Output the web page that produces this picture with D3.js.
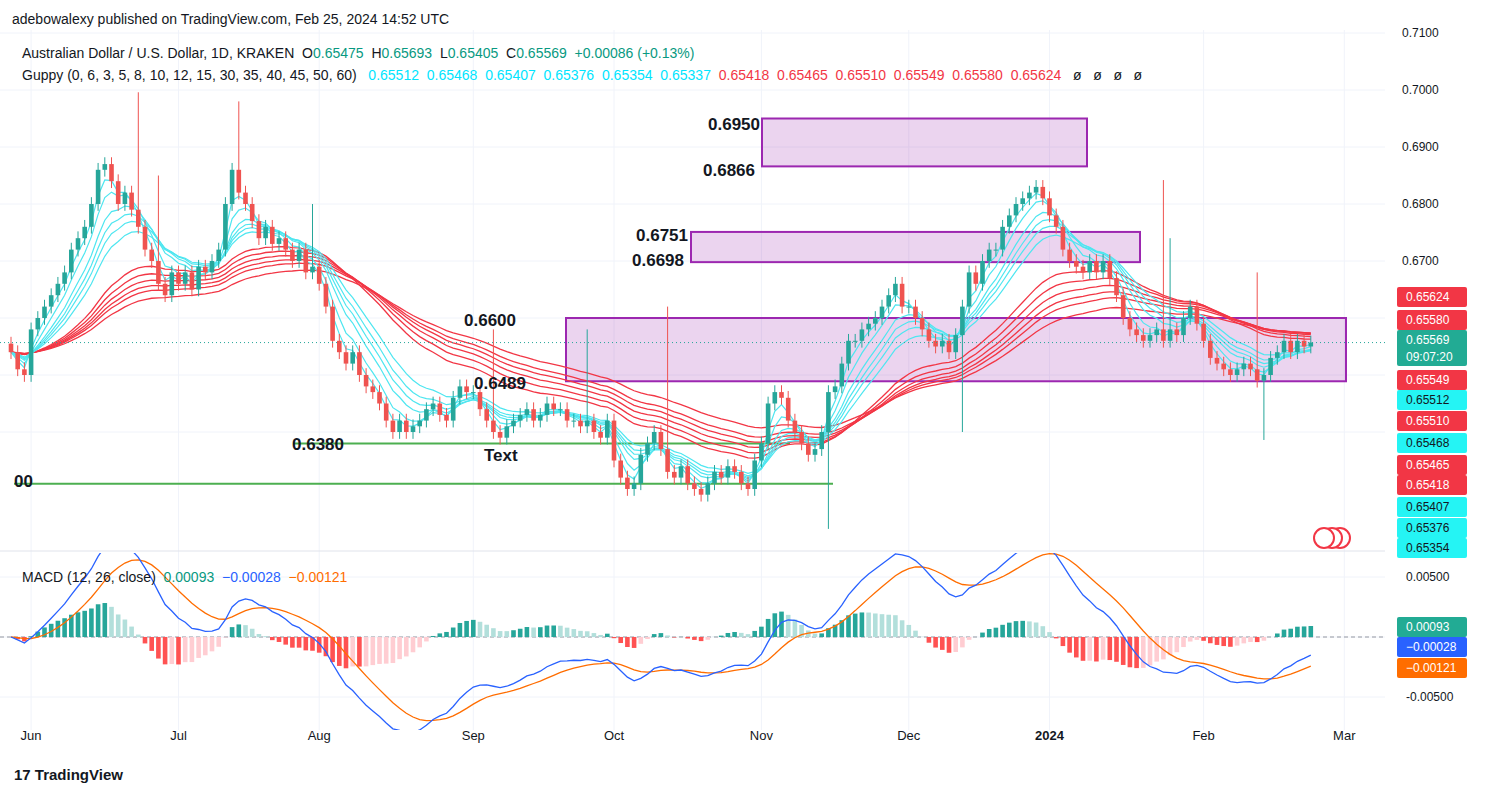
<!DOCTYPE html><html><head><meta charset="utf-8">
<script src="https://cdn.jsdelivr.net/npm/d3@7/dist/d3.min.js"></script>
<style>body{margin:0;background:#fff}svg{font-family:"Liberation Sans",Arial,sans-serif}text{white-space:pre}</style></head><body>
<svg id="c" width="1493" height="796"></svg>
<script>
// closes in pips (0.0001)
const closesMay=[6540,6510,6500];
const closesJun=[6580,6600,6620,6640,6660,6680,6720,6740,6760,6800,6860,6870,6840,6800,6820,6790,6760,6720,6700,6660,6640,6680];
const closesJul=[6660,6680,6650,6690,6680,6700,6720,6800,6860,6820,6800,6770,6740,6760,6730,6740,6720,6700,6720,6680,6690];
const closesAug=[6660,6620,6560,6540,6520,6540,6500,6480,6470,6450,6420,6400,6420,6400,6410,6420,6440,6450,6430,6420,6460,6480,6470];
const closesSep=[6470,6440,6420,6400,6390,6410,6420,6430,6440,6420,6430,6450,6440,6440,6420,6420,6410,6420,6400,6390,6420];
const closesOct=[6350,6320,6300,6310,6360,6380,6400,6370,6330,6320,6340,6310,6300,6290,6310,6330,6320,6340,6330,6310,6300,6350];
const closesNov=[6380,6450,6470,6460,6420,6400,6380,6360,6370,6400,6470,6480,6520,6560,6560,6580,6590,6600,6620,6640,6660,6620];
const closesDec=[6620,6600,6580,6560,6550,6560,6540,6570,6620,6680,6660,6700,6720,6720,6760,6780,6800,6810,6820,6830,6810];
const closesJan=[6780,6760,6720,6700,6690,6680,6700,6680,6700,6670,6640,6600,6580,6570,6560,6570,6580,6560,6580,6570,6600,6620,6590];
const closesFeb=[6560,6530,6520,6510,6500,6510,6520,6510,6490,6500,6530,6540,6560,6540,6560,6550,6557];
const spikes={19:{h:6996},22:{h:6850},34:{h:6980},45:{h:6800},72:{h:6580},86:{h:6580},98:{h:6620},122:{l:6230},142:{l:6400},172:{h:6842},173:{h:6740},186:{h:6680},187:{l:6386}};
const priceTicks=[0.71,0.70,0.69,0.68,0.67];
const monthLabels=[["Jun",2023,5],["Jul",2023,6],["Aug",2023,7],["Sep",2023,8],["Oct",2023,9],["Nov",2023,10],["Dec",2023,11],["2024",2024,0],["Feb",2024,1],["Mar",2024,2]];
const boxes=[[0.6950,0.6866,762,1087],[0.6751,0.6698,691,1140],[0.6600,0.6489,566,1346]];
const guppyFast=[3,5,8,10,12,15], guppySlow=[30,35,40,45,50,60];
const rightLabels=[["0.65624",297,"#f23645","#fff"],["0.65580",320,"#f23645","#fff"],["0.65549",380,"#f23645","#fff"],["0.65512",400,"#25f4f4","#131722"],["0.65510",421,"#f23645","#fff"],["0.65468",443,"#25f4f4","#131722"],["0.65465",465,"#f23645","#fff"],["0.65418",485,"#f23645","#fff"],["0.65407",507,"#25f4f4","#131722"],["0.65376",528,"#25f4f4","#131722"],["0.65354",548,"#25f4f4","#131722"]];

const closes=[].concat(closesMay,closesJun,closesJul,closesAug,closesSep,closesOct,closesNov,closesDec,closesJan,closesFeb).map(v=>v/10000);
const dates=[];{let d=new Date(2023,4,29);while(dates.length<closes.length+10){if(d.getDay()%6!==0)dates.push(new Date(d));d.setDate(d.getDate()+1);}}
const bars=closes.map((c,i)=>{const o=i?closes[i-1]:c+0.0015;const s=spikes[i]||{};return{o,c,h:s.h?s.h/10000:Math.max(o,c)+0.0012,l:s.l?s.l/10000:Math.min(o,c)-0.0012};});
function ema(arr,n){const k=2/(n+1);let e=arr[0];return arr.map(v=>e=v*k+e*(1-k));}
const svg=d3.select("#c");
const x=d3.scaleLinear().domain([0,1]).range([11,17.7]);
const y=d3.scaleLinear().domain([0.70,0.69]).range([90,147]);
const ym=d3.scaleLinear().domain([0.005,-0.005]).range([577,697]);
const defs=svg.append("defs");
defs.append("clipPath").attr("id","cm").append("rect").attr("x",0).attr("y",0).attr("width",1385).attr("height",550);
defs.append("clipPath").attr("id","cd").append("rect").attr("x",0).attr("y",553).attr("width",1385).attr("height",177);
const monthIdx=monthLabels.map(m=>{let i=dates.findIndex(d=>d.getFullYear()===m[1]&&d.getMonth()===m[2]);return[m[0],i];});
monthIdx.forEach(m=>svg.append("line").attr("x1",x(m[1])).attr("x2",x(m[1])).attr("y1",30).attr("y2",730).attr("stroke","#f0f3fa"));
d3.range(0.64,0.715,0.01).forEach(p=>svg.append("line").attr("x1",0).attr("x2",1385).attr("y1",y(p)).attr("y2",y(p)).attr("stroke","#f0f3fa"));
[0.005,0,-0.005].forEach(p=>svg.append("line").attr("x1",0).attr("x2",1385).attr("y1",ym(p)).attr("y2",ym(p)).attr("stroke","#f0f3fa"));
svg.append("line").attr("x1",0).attr("x2",1385).attr("y1",551).attr("y2",551).attr("stroke","#e0e3eb");
const gm=svg.append("g").attr("clip-path","url(#cm)");
boxes.forEach(b=>gm.append("rect").attr("x",b[2]).attr("width",b[3]-b[2]).attr("y",y(b[0])).attr("height",y(b[1])-y(b[0])).attr("fill","rgba(156,39,176,0.2)").attr("stroke","#9c27b0").attr("stroke-width",2));
gm.append("line").attr("x1",293).attr("x2",790).attr("y1",y(0.6380)).attr("y2",y(0.6380)).attr("stroke","#4caf50").attr("stroke-width",2);
gm.append("line").attr("x1",14).attr("x2",833).attr("y1",y(0.6309)).attr("y2",y(0.6309)).attr("stroke","#4caf50").attr("stroke-width",2);
const line=d3.line().x((d,i)=>x(i)).y(d=>y(d));
guppySlow.forEach(n=>gm.append("path").attr("d",line(ema(closes,n))).attr("fill","none").attr("stroke","#f23645").attr("stroke-width",1.3));
guppyFast.forEach(n=>gm.append("path").attr("d",line(ema(closes,n))).attr("fill","none").attr("stroke","#4ee6f0").attr("stroke-width",1.2));
bars.forEach((b,i)=>{const col=b.c>=b.o?"#26a69a":"#ef5350";const cx=x(i);
gm.append("line").attr("x1",cx).attr("x2",cx).attr("y1",y(b.h)).attr("y2",y(b.l)).attr("stroke",col);
gm.append("rect").attr("x",cx-2.3).attr("width",4.6).attr("y",y(Math.max(b.o,b.c))).attr("height",Math.max(1,Math.abs(y(b.o)-y(b.c)))).attr("fill",col);});
gm.append("line").attr("x1",0).attr("x2",1385).attr("y1",y(0.65569)).attr("y2",y(0.65569)).attr("stroke","#26a69a").attr("stroke-dasharray","1,3");
[["0.6950",708,130],["0.6866",703,176],["0.6751",636,241],["0.6698",632,266],["0.6600",464,326],["0.6489",474,389],["0.6380",292,450],["Text",484,461],["00",14,487]].forEach(t=>svg.append("text").attr("x",t[1]).attr("y",t[2]).text(t[0]).attr("font-size",17).attr("font-weight","bold").attr("fill","#131722"));
[1340,1332,1324].forEach(cx=>svg.append("circle").attr("cx",cx).attr("cy",538).attr("r",10).attr("fill","#fff").attr("stroke","#f23645").attr("stroke-width",2));
priceTicks.forEach(p=>svg.append("text").attr("x",1402).attr("y",y(p)+4).text(p.toFixed(4)).attr("font-size",12).attr("fill","#131722"));
function lab(t,yy,bg,fg,h){svg.append("rect").attr("x",1397).attr("y",yy-10).attr("width",70).attr("height",h||20).attr("rx",2).attr("fill",bg);svg.append("text").attr("x",1406).attr("y",yy+4).text(t).attr("font-size",12).attr("fill",fg);}
rightLabels.forEach(r=>lab(r[0],r[1],r[2],r[3]));
lab("0.65569",340,"#22ab94","#fff",36);svg.append("text").attr("x",1406).attr("y",361).text("09:07:20").attr("font-size",12).attr("fill","#fff");
const m12=ema(closes,12),m26=ema(closes,26);const macd=closes.map((c,i)=>m12[i]-m26[i]);const sig=ema(macd,9);const hist=macd.map((m,i)=>m-sig[i]);
const gd=svg.append("g").attr("clip-path","url(#cd)");
gd.append("line").attr("x1",0).attr("x2",1385).attr("y1",ym(0)).attr("y2",ym(0)).attr("stroke","#9598a1").attr("stroke-dasharray","4,3");
hist.forEach((h,i)=>{const p=i?hist[i-1]:0;const col=h>=0?(h>=p?"#26a69a":"#b2dfdb"):(h<p?"#ff5252":"#ffcdd2");
gd.append("rect").attr("x",x(i)-2.3).attr("width",4.6).attr("y",Math.min(ym(h),ym(0))).attr("height",Math.abs(ym(h)-ym(0))).attr("fill",col);});
const ml=d3.line().x((d,i)=>x(i)).y(d=>ym(d));
gd.append("path").attr("d",ml(sig)).attr("fill","none").attr("stroke","#ff6d00").attr("stroke-width",1.3);
gd.append("path").attr("d",ml(macd)).attr("fill","none").attr("stroke","#2962ff").attr("stroke-width",1.3);
[0.005,-0.005].forEach(p=>svg.append("text").attr("x",1406).attr("y",ym(p)+4).text(p.toFixed(5)).attr("font-size",12).attr("fill","#131722"));
lab("0.00093",627,"#22ab94","#fff");lab("−0.00028",647,"#2962ff","#fff");lab("−0.00121",668,"#ff6d00","#fff");
monthIdx.forEach(m=>svg.append("text").attr("x",x(m[1])).attr("y",740).attr("text-anchor","middle").text(m[0]).attr("font-size",13).attr("font-weight",m[0]==="2024"?"bold":"normal").attr("fill","#131722"));
svg.append("text").attr("x",12).attr("y",24).text("adebowalexy published on TradingView.com, Feb 25, 2024 14:52 UTC").attr("font-size",14).attr("fill","#131722");
const h1=svg.append("text").attr("x",22).attr("y",58).attr("font-size",14);
h1.append("tspan").attr("fill","#131722").text("Australian Dollar / U.S. Dollar, 1D, KRAKEN  O");
[["0.65475","  H"],["0.65693","  L"],["0.65405","  C"],["0.65569",""]].forEach(a=>{h1.append("tspan").attr("fill","#089981").text(a[0]);if(a[1])h1.append("tspan").attr("fill","#131722").text(a[1]);});
h1.append("tspan").attr("fill","#089981").text("  +0.00086 (+0.13%)");
const h2=svg.append("text").attr("x",22).attr("y",80).attr("font-size",14);
h2.append("tspan").attr("fill","#131722").text("Guppy (0, 6, 3, 5, 8, 10, 12, 15, 30, 35, 40, 45, 50, 60) ");
["0.65512","0.65468","0.65407","0.65376","0.65354","0.65337"].forEach(v=>h2.append("tspan").attr("fill","#00e5ff").text("  "+v));
["0.65418","0.65465","0.65510","0.65549","0.65580","0.65624"].forEach(v=>h2.append("tspan").attr("fill","#f23645").text("  "+v));
h2.append("tspan").attr("fill","#131722").text("   ø   ø   ø   ø");
const h3=svg.append("text").attr("x",22).attr("y",582).attr("font-size",14);
h3.append("tspan").attr("fill","#131722").text("MACD (12, 26, close) ");
h3.append("tspan").attr("fill","#089981").text(" 0.00093");h3.append("tspan").attr("fill","#2962ff").text("  −0.00028");h3.append("tspan").attr("fill","#ff6d00").text("  −0.00121");
svg.append("text").attr("x",14).attr("y",780).text("17 TradingView").attr("font-size",15).attr("font-weight","bold").attr("fill","#131722");
</script></body></html>
